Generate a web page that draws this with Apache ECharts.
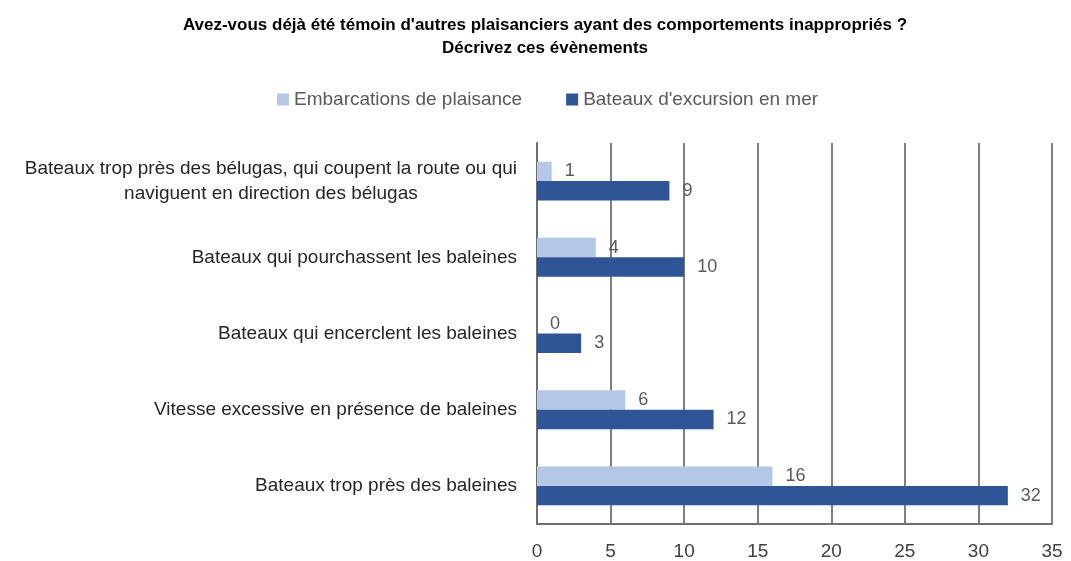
<!DOCTYPE html>
<html>
<head>
<meta charset="utf-8">
<script src="https://cdn.jsdelivr.net/npm/echarts@6/dist/echarts.min.js"></script>
<style>
  html, body { margin: 0; padding: 0; background: #fff; }
  #chart { width: 1071px; height: 561px; }
</style>
</head>
<body>
<div id="chart"></div>
<script>
// catégories (de haut en bas)
const categories = [
    'Bateaux trop près des bélugas, qui coupent la route ou qui\nnaviguent en direction des bélugas',
    'Bateaux qui pourchassent les baleines',
    'Bateaux qui encerclent les baleines',
    'Vitesse excessive en présence de baleines',
    'Bateaux trop près des baleines'
];

// séries
const seriesNames = ['Embarcations de plaisance', "Bateaux d'excursion en mer"];
const plaisance = [1, 4, 0, 6, 16];
const excursion = [9, 10, 3, 12, 32];

const FONT = '"Liberation Sans", Arial, sans-serif';

const chart = echarts.init(document.getElementById('chart'));

// style commun des étiquettes de barres
function barLabel() {
    return {
        show: true,
        position: 'right',
        distance: 13,
        fontFamily: FONT,
        fontSize: 18,
        color: '#595959'
    };
}

chart.setOption({
    backgroundColor: '#fff',
    animation: false,
    title: {
        text: "Avez-vous déjà été témoin d'autres plaisanciers ayant des comportements inappropriés ?\nDécrivez ces évènements",
        left: 540,
        textAlign: 'center',
        top: 9,
        textStyle: {
            fontFamily: FONT,
            fontSize: 17,
            fontWeight: 'bold',
            color: '#000',
            lineHeight: 23
        }
    },
    legend: {
        data: seriesNames,
        left: 272,
        top: 85,
        itemWidth: 12,
        itemHeight: 12,
        itemGap: 44,
        icon: 'rect',
        textStyle: {
            fontFamily: FONT,
            fontSize: 19,
            color: '#595959'
        }
    },
    grid: {
        left: 537,
        right: 19,
        top: 143,
        bottom: 37
    },
    xAxis: {
        type: 'value',
        min: 0,
        max: 35,
        interval: 5,
        axisLine: { show: true, lineStyle: { color: '#6e6e6e', width: 2 } },
        axisTick: { show: false },
        splitLine: { show: true, lineStyle: { color: '#7f7f7f', width: 2 } },
        axisLabel: {
            margin: 18,
            fontFamily: FONT,
            fontSize: 19,
            color: '#404040'
        }
    },
    yAxis: {
        type: 'category',
        data: categories,
        inverse: true,
        axisLine: { show: true, lineStyle: { color: '#6e6e6e', width: 2 } },
        axisTick: { show: false },
        axisLabel: {
            margin: 20,
            fontFamily: FONT,
            fontSize: 19,
            color: '#262626',
            lineHeight: 25,
            formatter: function (v) {
                return v.split('\n').map(l => '{c|' + l + '}').join('\n');
            },
            rich: {
                c: {
                    align: 'center',
                    fontFamily: FONT,
                    fontSize: 19,
                    color: '#262626',
                    lineHeight: 25
                }
            }
        }
    },
    series: [
        {
            name: seriesNames[0],
            type: 'bar',
            data: plaisance,
            barGap: '0%',
            barCategoryGap: '49%',
            itemStyle: { color: '#b4c7e7' },
            label: barLabel()
        },
        {
            name: seriesNames[1],
            type: 'bar',
            data: excursion,
            barGap: '0%',
            barCategoryGap: '49%',
            itemStyle: { color: '#2f5597' },
            label: barLabel()
        }
    ]
});
</script>
</body>
</html>
